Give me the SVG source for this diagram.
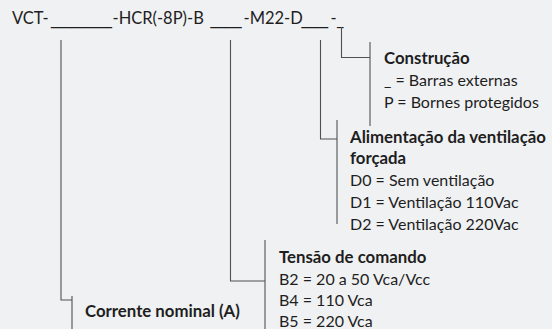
<svg xmlns="http://www.w3.org/2000/svg" width="552" height="329" viewBox="0 0 552 329">
<style>
text{font-family:Lato,"Noto Sans",sans-serif;fill:#1e1e1e;font-size:16px}
.t{font-size:16.5px}
.u{font-family:"DejaVu Sans",sans-serif}
.b{font-weight:bold;font-size:16.8px}
.ln{fill:none;stroke:#505050;stroke-width:1.1}
</style>
<rect width="552" height="329" fill="#f0f1f3"/>
<g id="code"><text class="t" y="24"><tspan x="12">VCT-</tspan><tspan class="u" x="51" textLength="61" lengthAdjust="spacingAndGlyphs">______</tspan><tspan x="112.5">-HCR(-8P)-B</tspan><tspan class="u" x="210.5" textLength="31" lengthAdjust="spacingAndGlyphs">__</tspan><tspan x="243.5">-M22-D</tspan><tspan class="u" x="301.5" textLength="26.5" lengthAdjust="spacingAndGlyphs">__</tspan><tspan x="330.5">-</tspan><tspan class="u" x="337" textLength="6.5" lengthAdjust="spacingAndGlyphs">_</tspan></text></g>
<g id="connectors">
<path class="ln" d="M61,40 V300 H72"/>
<path class="ln" d="M72,296 V329"/>
<path class="ln" d="M230.5,40 V281 H265"/>
<path class="ln" d="M265,240 V329"/>
<path class="ln" d="M320.5,40 V139 H337"/>
<path class="ln" d="M337,120 V224"/>
<path class="ln" d="M341.5,27 V57.5 H370"/>
<path class="ln" d="M370,42 V126"/>
</g>
<g id="construcao">
<text class="b" x="384" y="64">Construção</text>
<text x="384" y="86">_ = Barras externas</text>
<text x="384" y="108">P = Bornes protegidos</text>
</g>
<g id="alimentacao">
<text class="b" x="350" y="142.5">Alimentação da ventilação</text>
<text class="b" x="350" y="164">forçada</text>
<text x="350" y="186">D0 = Sem ventilação</text>
<text x="350" y="208">D1 = Ventilação 110Vac</text>
<text x="350" y="229.5">D2 = Ventilação 220Vac</text>
</g>
<g id="tensao">
<text class="b" x="279" y="262.5">Tensão de comando</text>
<text x="279" y="284.5">B2 = 20 a 50 Vca/Vcc</text>
<text x="279" y="306">B4 = 110 Vca</text>
<text x="279" y="327">B5 = 220 Vca</text>
</g>
<g id="corrente">
<text class="b" x="85" y="317">Corrente nominal (A)</text>
</g>
</svg>
